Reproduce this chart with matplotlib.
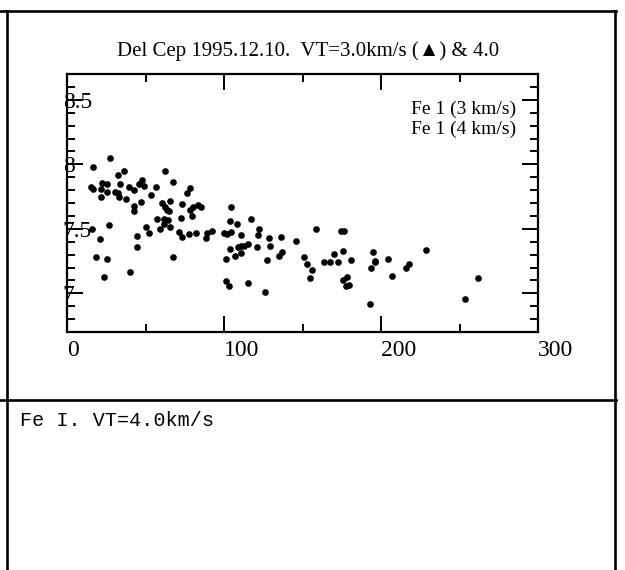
import numpy as np
import matplotlib
matplotlib.use("Agg")
import matplotlib.pyplot as plt
from matplotlib.lines import Line2D

# Fe I lines: excitation / abundance scatter
x_vals = [16.4, 15.1, 16.4, 22.1, 21.5, 21.7, 25.3, 25.5, 27.6, 32.7,
          36.3, 33.5, 30.6, 32.5, 32.9, 37.4, 39.5, 42.5, 45.6, 47.6,
          49.3, 47.4, 42.5, 42.7, 53.3, 56.5, 62.6, 67.3, 60.3, 62.2,
          65.4, 63.5, 65.2, 57.5, 62.0, 64.1, 62.0, 59.2, 65.6, 50.5,
          52.3, 44.6, 44.6, 26.5, 20.8, 15.7, 18.5, 25.5, 23.6, 40.3,
          67.3, 71.5, 73.5, 72.5, 73.3, 76.2, 78.3, 78.3, 79.4, 80.5,
          83.4, 85.6, 77.5, 82.2, 88.3, 89.0, 92.4, 100.2, 101.6, 103.6,
          104.5, 104.3, 108.3, 101.2, 104.0, 107.0, 110.8, 111.0, 108.9, 112.7,
          115.1, 111.0, 101.2, 103.4, 115.3, 117.2, 122.1, 121.9, 121.2, 128.5,
          129.3, 127.2, 126.1, 136.1, 135.3, 137.2, 145.9, 151.0, 153.1, 156.1,
          155.0, 158.8, 163.9, 167.5, 169.8, 172.4, 174.5, 176.6, 175.8, 178.1,
          175.6, 177.5, 179.4, 180.9, 193.0, 193.6, 194.9, 196.0, 196.4, 204.7,
          206.8, 215.9, 217.8, 228.7, 253.5, 261.6]
y_vals = [7.98, 7.826, 7.81, 7.857, 7.81, 7.749, 7.847, 7.783, 8.046, 7.917,
          7.948, 7.845, 7.788, 7.78, 7.744, 7.731, 7.824, 7.798, 7.847, 7.878,
          7.829, 7.705, 7.679, 7.64, 7.759, 7.826, 7.948, 7.865, 7.697, 7.671,
          7.718, 7.648, 7.638, 7.578, 7.578, 7.568, 7.535, 7.501, 7.511, 7.511,
          7.47, 7.447, 7.359, 7.527, 7.419, 7.498, 7.279, 7.268, 7.129, 7.167,
          7.279, 7.473, 7.436, 7.581, 7.69, 7.78, 7.819, 7.646, 7.602, 7.671,
          7.682, 7.671, 7.462, 7.467, 7.431, 7.467, 7.485, 7.467, 7.462, 7.557,
          7.669, 7.475, 7.537, 7.266, 7.346, 7.289, 7.45, 7.369, 7.36, 7.37,
          7.385, 7.31, 7.098, 7.059, 7.08, 7.578, 7.498, 7.45, 7.357, 7.426,
          7.369, 7.258, 7.008, 7.439, 7.289, 7.318, 7.408, 7.279, 7.23, 7.18,
          7.121, 7.498, 7.241, 7.245, 7.307, 7.245, 7.48, 7.48, 7.328, 7.129,
          7.103, 7.059, 7.062, 7.258, 6.919, 7.198, 7.318, 7.243, 7.25, 7.268,
          7.137, 7.198, 7.23, 7.338, 6.958, 7.119]

xticks = [0, 100, 200, 300]
xtick_labels = ["0", "100", "200", "300"]
yticks = [7.0, 7.5, 8.0, 8.5]
ytick_labels = ["7", "7.5", "8", "8.5"]

title = "Del Cep 1995.12.10.  VT=3.0km/s (\u25B2) & 4.0"
note_lines = ["Fe 1 (3 km/s)", "Fe 1 (4 km/s)"]
caption = "Fe I. VT=4.0km/s"

W, H = 625, 570
serif = ["Liberation Serif", "DejaVu Sans"]

fig = plt.figure(figsize=(W / 100, H / 100), dpi=100)

# axes box in pixels: left 67, right 538, top 74, bottom 332
ax = fig.add_axes([67 / W, 1 - 332 / H, 471 / W, 258 / H])
ax.plot(x_vals, y_vals, "o", color="black", ms=4.8, mew=0)

ax.set_xlim(0, 300)
ax.set_ylim(6.7, 8.7)
ax.set_xticks(xticks, xtick_labels)
ax.set_xticks([50, 150, 250], minor=True)
ax.set_yticks(yticks, ytick_labels)
ax.set_yticks(np.arange(6.8, 8.7, 0.1), minor=True)

for s in ax.spines.values():
    s.set_linewidth(1.6)
ax.tick_params(which="both", direction="in", top=True, right=True, width=1.4)
ax.tick_params(which="major", length=11.5)
ax.tick_params(which="minor", length=5.8)
ax.tick_params(axis="x", pad=6, labelsize=17)
ax.tick_params(axis="y", pad=3, labelsize=17)
for lab in ax.get_xticklabels() + ax.get_yticklabels():
    lab.set_family(serif)
    lab.set_horizontalalignment("left")

fig.text(308 / W, 1 - 56 / H, title, ha="center", va="baseline",
         fontsize=15, family=serif)
ax.text(0.953, 0.862, note_lines[0], transform=ax.transAxes, ha="right",
        va="center", fontsize=14, family=serif)
ax.text(0.953, 0.785, note_lines[1], transform=ax.transAxes, ha="right",
        va="center", fontsize=14, family=serif)

fig.text(20 / W, 1 - 411 / H, caption, ha="left", va="top",
         fontsize=14.5, family=["Liberation Mono", "DejaVu Sans Mono"])

# table-like frame around the chart
def px_line(x0, y0, x1, y1):
    fig.add_artist(Line2D([x0 / W, x1 / W], [1 - y0 / H, 1 - y1 / H],
                          transform=fig.transFigure, color="black", lw=1.9))

px_line(0, 11, 616, 11)
px_line(7, 11, 7, H)
px_line(615, 11, 615, H)
px_line(0, 400, 616, 400)

fig.savefig("out.png", dpi=100)
